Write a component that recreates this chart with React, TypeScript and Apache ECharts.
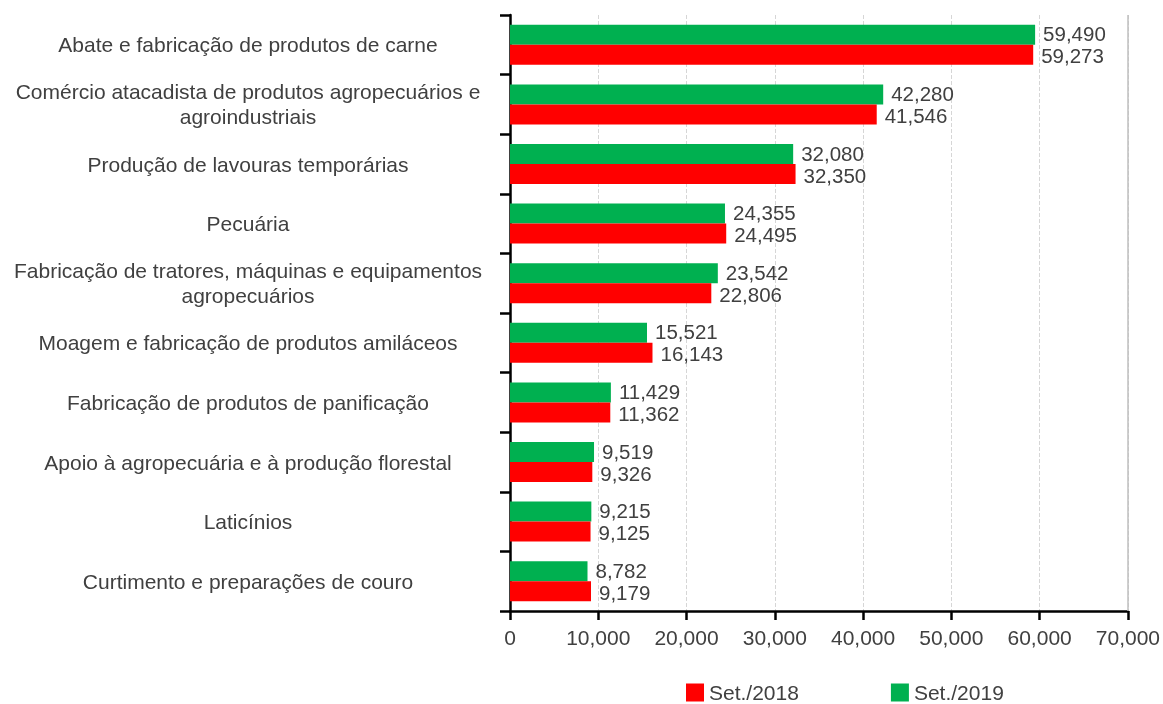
import React, { useEffect, useRef } from "react";
import * as echarts from "echarts";

const categories = [
  "Abate e fabricação de produtos de carne",
  "Comércio atacadista de produtos agropecuários e\nagroindustriais",
  "Produção de lavouras temporárias",
  "Pecuária",
  "Fabricação de tratores, máquinas e equipamentos\nagropecuários",
  "Moagem e fabricação de produtos amiláceos",
  "Fabricação de produtos de panificação",
  "Apoio à agropecuária e à produção florestal",
  "Laticínios",
  "Curtimento e preparações de couro",
];

const set2018 = [59273, 41546, 32350, 24495, 22806, 16143, 11362, 9326, 9125, 9179];
const set2019 = [59490, 42280, 32080, 24355, 23542, 15521, 11429, 9519, 9215, 8782];

const seriesNames = ["Set./2018", "Set./2019"];
const axisMax = 70000;
const axisInterval = 10000;

const TEXT = "#404040";
const FONT = "Liberation Sans, Arial, sans-serif";
const FS = 21;

const fmt = (v: number) => v.toLocaleString("en-US");

export default function App() {
  const ref = useRef<HTMLDivElement>(null);
  useEffect(() => {
    if (!ref.current) return;
    const chart = echarts.init(ref.current, undefined, { renderer: "svg" });
    const labelOpt = (dy: number) => ({
      show: true,
      position: "right",
      distance: 8,
      offset: [0, dy],
      color: TEXT,
      fontSize: 20.5,
      lineHeight: 18,
      fontFamily: FONT,
      formatter: (p: any) => fmt(p.value),
    });
    chart.setOption({
      animation: false,
      textStyle: { fontFamily: FONT },
      grid: { left: 510, right: 35, top: 15, bottom: 93, containLabel: false },
      legend: {
        data: seriesNames,
        left: 686,
        top: 682,
        padding: 0,
        itemWidth: 18,
        itemHeight: 18,
        itemGap: 92,
        icon: "rect",
        textStyle: { color: TEXT, fontSize: FS, fontFamily: FONT, lineHeight: 20 },
      },
      xAxis: {
        type: "value",
        min: 0,
        max: axisMax,
        interval: axisInterval,
        axisLine: { show: true, lineStyle: { color: "#000", width: 2.5 } },
        axisTick: { show: true, length: 9, lineStyle: { color: "#000", width: 2.5 } },
        axisLabel: {
          color: TEXT,
          fontSize: FS,
          fontFamily: FONT,
          margin: 16,
          formatter: (v: number) => fmt(v),
        },
        splitLine: { show: true, lineStyle: { color: "#d6d6d6", type: "dashed", width: 1 } },
      },
      yAxis: {
        type: "category",
        data: categories,
        inverse: true,
        axisLine: { show: true, lineStyle: { color: "#000", width: 2.5 } },
        axisTick: { show: true, length: 10, lineStyle: { color: "#000", width: 2.5 } },
        axisLabel: {
          color: TEXT,
          fontSize: FS,
          fontFamily: FONT,
          align: "center",
          margin: 262,
          lineHeight: 25,
        },
      },
      series: [
        {
          name: seriesNames[1],
          type: "bar",
          data: set2019,
          barWidth: 20,
          barGap: "0%",
          itemStyle: { color: "#00B050" },
          label: labelOpt(-1),
          markLine: {
            silent: true,
            symbol: "none",
            label: { show: false },
            lineStyle: { color: "#bfbfbf", type: "solid", width: 1.5 },
            data: [{ xAxis: axisMax }],
          },
        },
        {
          name: seriesNames[0],
          type: "bar",
          data: set2018,
          barWidth: 20,
          barGap: "0%",
          itemStyle: { color: "#FF0000" },
          label: labelOpt(1),
        },
      ],
    });
    return () => chart.dispose();
  }, []);
  return (
    <div
      ref={ref}
      style={{ position: "fixed", left: 0, top: 0, width: 1163, height: 704 }}
    />
  );
}
